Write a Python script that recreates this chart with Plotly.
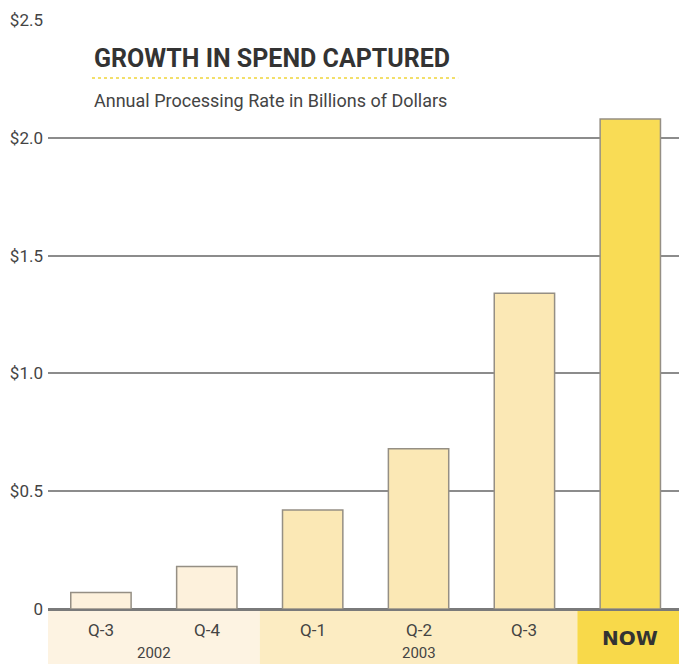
import plotly.graph_objects as go

categories = ["Q-3", "Q-4", "Q-1", "Q-2", "Q-3", "NOW"]
values = [0.07, 0.18, 0.42, 0.68, 1.34, 2.08]
years = ["2002", "2003"]
bar_colors = ["#fdf1dc", "#fdf1dc", "#fbe8b5", "#fbe8b5", "#fbe8b5", "#f9dc55"]
tick_vals = [0, 0.5, 1.0, 1.5, 2.0, 2.5]
tick_text = ["0", "$0.5", "$1.0", "$1.5", "$2.0", "$2.5"]

FONT = "Roboto, sans-serif"
BOLDFONT = "DejaVu Sans, sans-serif"
xs = list(range(len(categories)))

fig = go.Figure()
fig.add_trace(go.Bar(
    x=xs, y=values, width=0.57,
    marker=dict(color=bar_colors, line=dict(color="#958f84", width=1.5)),
    hoverinfo="skip",
))

# background bands below the axis
bands = [(-0.5, 1.5, "#fdf3e2"), (1.5, 4.5, "#fcecc2"), (4.5, 5.46, "#f8d94a")]
for x0, x1, c in bands:
    fig.add_shape(type="rect", xref="x", yref="paper", x0=x0, x1=x1, y0=-0.1, y1=0,
                  fillcolor=c, line=dict(width=0), layer="below")

# x labels
for i, c in enumerate(categories):
    if c == "NOW":
        fig.add_annotation(x=i, y=-0.050, xref="x", yref="paper", yanchor="middle",
                           text="<b>NOW</b>", showarrow=False,
                           font=dict(family=BOLDFONT, size=20, color="#333333"))
    else:
        fig.add_annotation(x=i, y=-0.035, xref="x", yref="paper", yanchor="middle",
                           text=c, showarrow=False,
                           font=dict(family=FONT, size=17, color="#444444"))
for xpos, yr in zip([0.5, 3], years):
    fig.add_annotation(x=xpos, y=-0.074, xref="x", yref="paper", yanchor="middle", text=yr,
                       showarrow=False, font=dict(family=FONT, size=15, color="#444444"))

# title block
fig.add_annotation(x=0.0697, y=0.935, xref="paper", yref="paper", xanchor="left", yanchor="middle",
                   text="<b>GROWTH IN SPEND CAPTURED</b>", showarrow=False,
                   font=dict(family=FONT, size=25, color="#333333"))
fig.add_shape(type="line", xref="paper", yref="paper", x0=0.0697, x1=0.65, y0=0.9015, y1=0.9015,
              line=dict(color="#f3df6a", width=2, dash="dot"))
fig.add_annotation(x=0.0697, y=0.864, xref="paper", yref="paper", xanchor="left", yanchor="middle",
                   text="Annual Processing Rate in Billions of Dollars", showarrow=False,
                   font=dict(family=FONT, size=18, color="#444444"))

fig.update_layout(
    width=679, height=664,
    margin=dict(l=48, r=0, t=20, b=55),
    paper_bgcolor="white", plot_bgcolor="white",
    showlegend=False,
    xaxis=dict(range=[-0.5, 5.46], showticklabels=False, showgrid=False, zeroline=False,
               showline=False, fixedrange=True),
    yaxis=dict(range=[0, 2.5], tickvals=tick_vals, ticktext=tick_text,
               showgrid=True, gridcolor="#8c8c8c", gridwidth=2,
               zeroline=True, zerolinecolor="#7a7a7a", zerolinewidth=3,
               ticks="", ticklabelstandoff=4,
               tickfont=dict(family=FONT, size=17, color="#444444")),
)

fig.write_html("out.html")
